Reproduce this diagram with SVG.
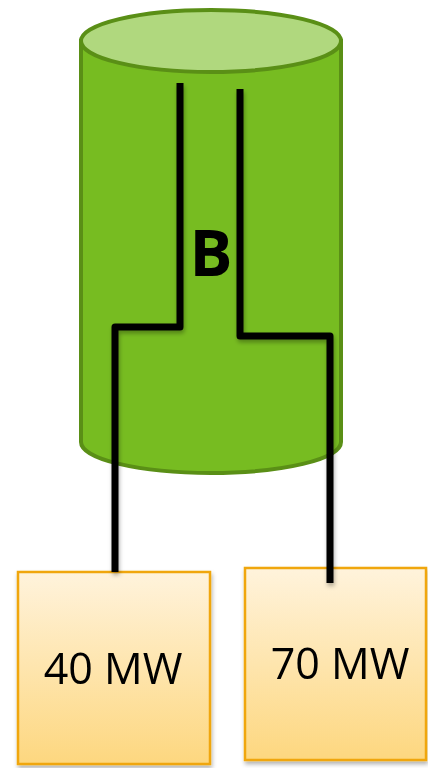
<svg xmlns="http://www.w3.org/2000/svg" width="428" height="768" viewBox="0 0 428 768">
<defs>
<linearGradient id="boxGrad" x1="0" y1="0" x2="0" y2="1">
<stop offset="0" stop-color="#fff3dc"/>
<stop offset="1" stop-color="#fdd77f"/>
</linearGradient>
<filter id="sh" x="-20%" y="-20%" width="140%" height="140%">
<feDropShadow dx="1" dy="3" stdDeviation="2" flood-color="#000" flood-opacity="0.3"/>
</filter>
</defs>
<style>
.box{fill:url(#boxGrad);stroke:#f0a60a;stroke-width:2.5}
.lbl{font-family:"Open Sans","Liberation Sans",sans-serif;font-size:43px;fill:#000;text-anchor:middle}
.wire{fill:none;stroke:#000;stroke-width:7;stroke-linejoin:round}
</style>
<g id="cylinder">
<path d="M81,41 L81,442 A130,31 0 0 0 341,442 L341,41 Z" fill="#77bc21" stroke="#5a8f16" stroke-width="4"/>
<ellipse cx="211" cy="41" rx="130" ry="31" fill="#b0d87e" stroke="#5a8f16" stroke-width="4"/>
<text x="211" y="276" font-family="Open Sans,Liberation Sans,sans-serif" font-weight="bold" font-size="64" text-anchor="middle" fill="#000">B</text>
</g>
<g id="load40" filter="url(#sh)">
<rect class="box" x="18" y="572" width="192" height="192"/>
<text class="lbl" x="113" y="684">40 MW</text>
</g>
<g id="load70" filter="url(#sh)">
<rect class="box" x="245" y="568" width="181" height="192"/>
<text class="lbl" x="340" y="679">70 MW</text>
</g>
<g id="connectors" filter="url(#sh)">
<polyline class="wire" points="180,83 180,327 115,327 115,572"/>
<polyline class="wire" points="240,89 240,336 330,336 330,583"/>
</g>
</svg>
